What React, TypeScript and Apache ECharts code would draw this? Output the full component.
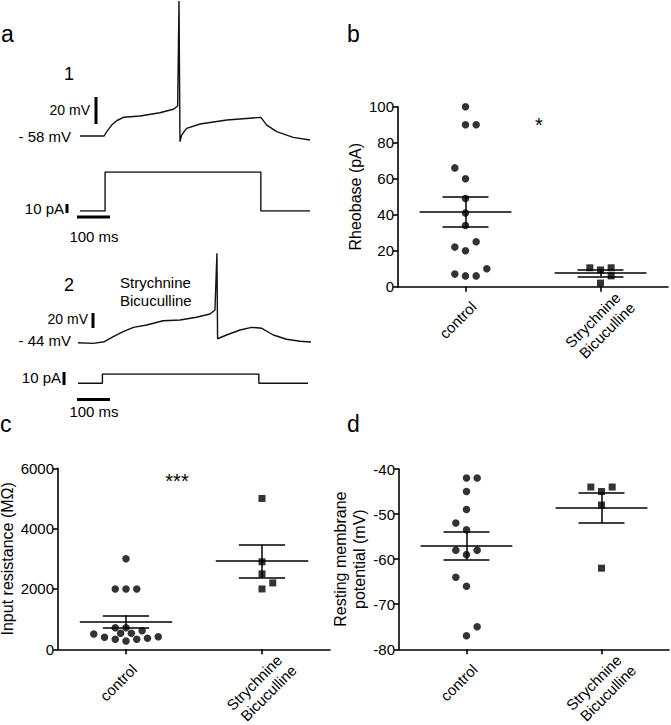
import React, { useEffect, useRef } from "react";
import * as echarts from "echarts";

// ---------- Panel a: example recordings ----------
// Trace 1 (control): time (ms) / membrane potential (mV)
const trace1Time = [0, 73, 81, 96, 111, 133, 182, 242, 283, 296, 300, 303, 308, 323, 364, 445, 548, 566, 596, 646, 697];
const trace1Vm = [-58, -58, -54.8, -49.9, -46.7, -44.1, -43.2, -40.8, -38.2, -35.8, 42, -62.2, -57.3, -52.3, -49.1, -46.1, -44.2, -49.9, -54.8, -59, -61];
// Injected current step (pA)
const step1Time = [0, 76, 76, 548, 548, 697];
const step1Current = [0, 0, 50, 50, 0, 0];

// Trace 2 (strychnine + bicuculline)
const trace2Time = [0, 46, 80, 107, 137, 168, 208, 258, 309, 359, 400, 415, 421, 423, 450, 491, 526, 557, 592, 632, 673, 706];
const trace2Vm = [-44, -44.8, -42.7, -36.3, -29.9, -24.3, -21.3, -15.8, -14.9, -11.4, -7.2, -2.1, 70.6, -38.9, -34.1, -27.7, -24.3, -25.5, -34.1, -39.6, -42.2, -43.1];
const step2Time = [0, 74, 74, 548, 548, 697];
const step2Current = [0, 0, 8, 8, 0, 0];

// ---------- Group plots ----------
const groupsLine1 = ["control", "Strychnine"];
const groupsLine2 = ["", "Bicuculline"];
const groupPos = [1, 3];

// b: Rheobase (pA)
const rheobaseControl = [100, 90, 90, 66, 60, 49, 41, 34, 22, 20, 25, 7, 6, 6, 10];
const rheobaseControlCol = [0, 0, 2, -2, 0, 0, 0, 0, -2, 0, 2, -2, 0, 2, 4];
const rheobaseDrug = [10.5, 9.3, 10.5, 6, 2];
const rheobaseDrugCol = [-2, 0, 2, 2, 0];
const rheobaseMean = [41.7, 7.6];
const rheobaseSem = [8.5, 1.8];

// c: Input resistance (MOhm)
const resistanceControl = [3000, 2000, 2000, 2000, 507, 398, 716, 331, 530, 716, 275, 530, 331, 617, 365, 418];
const resistanceControlCol = [0, -2, 0, 2, -6, -4, -2, -2, -1, 0, 0, 1, 2, 3, 4, 6];
const resistanceDrug = [5000, 2900, 2500, 2200, 2000];
const resistanceDrugCol = [0, 0, 0, 2, 0];
const resistanceMean = [915, 2920];
const resistanceSem = [210, 540];

// d: Resting membrane potential (mV)
const rmpControl = [-42, -42, -45, -49, -52, -53.5, -58, -58, -59, -64, -66, -75, -77];
const rmpControlCol = [0, 2, 0, 0, -2, 0, -2, 2, 0, -2, 0, 2, 0];
const rmpDrug = [-44, -45, -44, -48, -62];
const rmpDrugCol = [-2, 0, 2, 0, 0];
const rmpMean = [-57.0, -48.6];
const rmpSem = [3.1, 3.4];

const FONT = "'Liberation Sans', Arial, Helvetica, sans-serif";
const BLACK = "#000";
const COL_STEP = 0.079;

function zip(a: number[], b: number[]) {
  return a.map((v, i) => [v, b[i]]);
}

export default function App() {
  const ref = useRef<HTMLDivElement>(null);

  useEffect(() => {
    if (!ref.current) return;
    const chart = echarts.init(ref.current, null, { renderer: "svg" });

    const traceX = (gridIndex: number) => ({
      type: "value", gridIndex, min: 0, max: 700, show: false,
    });
    const traceY = (gridIndex: number, min: number, max: number) => ({
      type: "value", gridIndex, min, max, show: false,
    });

    const labelFor = (names: string[]) => (v: number) => {
      const i = groupPos.indexOf(v);
      return i >= 0 ? names[i] : "";
    };

    // main x axis (line, ticks, first label line)
    const panelX = (gridIndex: number) => ({
      type: "value",
      gridIndex,
      position: "bottom",
      min: 0,
      max: 4,
      axisLine: { show: true, onZero: false, lineStyle: { color: BLACK, width: 1.6 } },
      axisTick: { show: true, customValues: groupPos, length: 5, lineStyle: { color: BLACK, width: 1.6 } },
      axisLabel: {
        show: true,
        customValues: groupPos,
        rotate: 45,
        margin: 25.5,
        align: "center",
        verticalAlign: "middle",
        padding: [0, 22, 0, 0],
        color: BLACK,
        fontSize: 15,
        lineHeight: 15,
        fontFamily: FONT,
        formatter: labelFor(groupsLine1),
      },
      splitLine: { show: false },
    });
    // companion x axis carrying the second label line
    const panelX2 = (gridIndex: number) => ({
      type: "value",
      gridIndex,
      position: "bottom",
      min: 0,
      max: 4,
      axisLine: { show: false, onZero: false },
      axisTick: { show: false },
      axisLabel: {
        show: true,
        customValues: groupPos,
        rotate: 45,
        margin: 50,
        align: "center",
        verticalAlign: "middle",
        padding: [0, 0, 0, 18],
        color: BLACK,
        fontSize: 15,
        lineHeight: 15,
        fontFamily: FONT,
        formatter: labelFor(groupsLine2),
      },
      splitLine: { show: false },
    });

    const panelY = (gridIndex: number, min: number, max: number, interval: number, name: string, nameGap: number) => ({
      type: "value",
      gridIndex,
      min,
      max,
      interval,
      name,
      nameLocation: "middle",
      nameGap,
      nameTextStyle: { fontSize: 16, color: BLACK, fontFamily: FONT, lineHeight: 19 },
      axisLine: { show: true, onZero: false, lineStyle: { color: BLACK, width: 1.6 } },
      axisTick: { show: true, length: 5, lineStyle: { color: BLACK, width: 1.6 } },
      axisLabel: {
        fontSize: 15, color: BLACK, fontFamily: FONT, margin: 4,
        formatter: (v: number) => String(v),
      },
      splitLine: { show: false },
    });

    const scatter = (gi: number, values: number[], cols: number[], g: number, symbol: string, size: number) => ({
      type: "scatter",
      xAxisIndex: gi,
      yAxisIndex: gi,
      symbol,
      symbolSize: size,
      itemStyle: { color: BLACK },
      data: values.map((v, i) => [groupPos[g] + cols[i] * COL_STEP, v]),
      silent: true,
      z: 3,
    });

    const errorBars = (gi: number, means: number[], sems: number[]) => {
      const segs: any[] = [];
      means.forEach((m, g) => {
        const x = groupPos[g];
        const s = sems[g];
        segs.push({ coords: [[x - 0.68, m], [x + 0.68, m]] });
        segs.push({ coords: [[x - 0.34, m + s], [x + 0.34, m + s]] });
        segs.push({ coords: [[x - 0.34, m - s], [x + 0.34, m - s]] });
        segs.push({ coords: [[x, m - s], [x, m + s]] });
      });
      return {
        type: "lines",
        coordinateSystem: "cartesian2d",
        xAxisIndex: gi,
        yAxisIndex: gi,
        data: segs,
        lineStyle: { color: BLACK, width: 1.5, opacity: 1 },
        silent: true,
        z: 4,
      };
    };

    const traceLine = (gi: number, t: number[], v: number[]) => ({
      type: "line",
      xAxisIndex: gi,
      yAxisIndex: gi,
      data: zip(t, v),
      showSymbol: false,
      symbol: "none",
      lineStyle: { color: "#111", width: 1.4 },
      silent: true,
    });

    const txt = (x: number, y: number, text: string, size: number, align = "left") => ({
      type: "text",
      x,
      y,
      silent: true,
      style: {
        text,
        fill: BLACK,
        font: `${size}px ${FONT}`,
        fontSize: size,
        fontFamily: FONT,
        align,
        textAlign: align,
        verticalAlign: "middle",
        textVerticalAlign: "middle",
      },
    });
    const bar = (x1: number, y1: number, x2: number, y2: number) => ({
      type: "line",
      silent: true,
      shape: { x1, y1, x2, y2 },
      style: { stroke: BLACK, lineWidth: 3 },
    });

    const g = (left: number, top: number, width: number, height: number) => ({
      left, top, width, height, containLabel: false, outerBoundsMode: "none",
    });

    const option: any = {
      animation: false,
      backgroundColor: "#fff",
      grid: [
        g(80, 1, 231, 151.2),
        g(80, 172, 231, 39),
        g(78, 252.2, 231, 103),
        g(78, 374, 231, 9.3),
        g(398, 106.7, 270, 180),
        g(58, 468.3, 272, 181),
        g(399, 469, 270, 180.3),
      ],
      xAxis: [
        traceX(0), traceX(1), traceX(2), traceX(3),
        panelX(4), panelX(5), panelX(6),
        panelX2(4), panelX2(5), panelX2(6),
      ],
      yAxis: [
        traceY(0, -70, 42),
        traceY(1, 0, 50),
        traceY(2, -60, 72),
        traceY(3, 0, 8),
        panelY(4, 0, 100, 20, "Rheobase (pA)", 31),
        panelY(5, 0, 6000, 2000, "Input resistance (MΩ)", 41),
        panelY(6, -80, -40, 10, "Resting membrane\npotential (mV)", 28),
      ],
      series: [
        traceLine(0, trace1Time, trace1Vm),
        traceLine(1, step1Time, step1Current),
        traceLine(2, trace2Time, trace2Vm),
        traceLine(3, step2Time, step2Current),
        scatter(4, rheobaseControl, rheobaseControlCol, 0, "circle", 7.5),
        scatter(4, rheobaseDrug, rheobaseDrugCol, 1, "rect", 7),
        errorBars(4, rheobaseMean, rheobaseSem),
        scatter(5, resistanceControl, resistanceControlCol, 0, "circle", 7.5),
        scatter(5, resistanceDrug, resistanceDrugCol, 1, "rect", 7),
        errorBars(5, resistanceMean, resistanceSem),
        scatter(6, rmpControl, rmpControlCol, 0, "circle", 7.5),
        scatter(6, rmpDrug, rmpDrugCol, 1, "rect", 7),
        errorBars(6, rmpMean, rmpSem),
      ],
      graphic: [
        txt(1, 34, "a", 23),
        txt(347, 34, "b", 23),
        txt(0, 424, "c", 23),
        txt(347, 424, "d", 23),
        txt(69, 74, "1", 18, "center"),
        txt(90, 110, "20 mV", 14, "right"),
        bar(96, 97, 96, 124),
        txt(71, 136, "- 58 mV", 15, "right"),
        txt(64, 208, "10 pA", 15, "right"),
        bar(67, 204, 67, 213),
        bar(77, 217, 110, 217),
        txt(94, 236, "100 ms", 15, "center"),
        txt(69, 285, "2", 18, "center"),
        txt(120, 282, "Strychnine", 15),
        txt(120, 300, "Bicuculline", 15),
        txt(88, 319, "20 mV", 14, "right"),
        bar(93, 313, 93, 328),
        txt(71, 340, "- 44 mV", 15, "right"),
        txt(61, 377, "10 pA", 15, "right"),
        bar(64, 372, 64, 385),
        bar(77, 399.5, 110, 399.5),
        txt(94, 411, "100 ms", 15, "center"),
        txt(539, 125, "*", 20, "center"),
        txt(177, 481, "***", 20, "center"),
      ],
    };

    chart.setOption(option);
    return () => chart.dispose();
  }, []);

  return (
    <div
      ref={ref}
      style={{ position: "fixed", left: 0, top: 0, width: 671, height: 725, background: "#fff" }}
    />
  );
}
